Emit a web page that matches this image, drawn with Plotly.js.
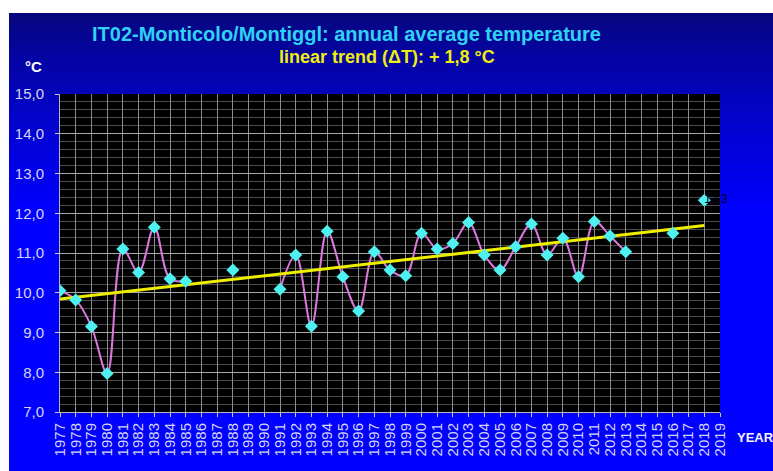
<!DOCTYPE html>
<html>
<head>
<meta charset="utf-8">
<script src="https://cdn.plot.ly/plotly-3.0.1.min.js"></script>
<style>html,body{margin:0;padding:0;background:#fff;}#chart{width:773px;height:471px;}</style>
</head>
<body>
<div id="chart"></div>
<script>
// ---- data ----
const years = [1977,1978,1979,1980,1981,1982,1983,1984,1985,1986,1987,1988,1989,1990,
  1991,1992,1993,1994,1995,1996,1997,1998,1999,2000,2001,2002,2003,2004,2005,2006,
  2007,2008,2009,2010,2011,2012,2013,2014,2015,2016,2017,2018];
const temps = [10.05,9.82,9.15,7.97,11.10,10.51,11.65,10.35,10.29,null,null,10.57,null,null,
  10.09,10.95,9.16,11.55,10.40,9.54,11.03,10.57,10.43,11.50,11.10,11.24,11.77,10.95,10.57,11.16,
  11.73,10.95,11.37,10.40,11.79,11.43,11.03,null,null,11.50,null,12.33];
const trendYears = [1977, 2018];
const trendValues = [9.84, 11.69];
const labelYears = [2018];
const labelValues = [12.33];
const labelTexts = ["12,3"];
const titleText = "IT02-Monticolo/Montiggl: annual average temperature";
const subtitleText = "linear trend (\u0394T): + 1,8 \u00b0C";

// ---- background gradient bands (styling) ----
const W = 773, H = 471, L = 60, R = 720, T = 94, B = 412;
const px2x = p => (p - L) / (R - L);
const py2y = p => (B - p) / (B - T);
const shapes = [];
const bgTop = 13, bgBottom = 471, nBands = 46;
for (let i = 0; i < nBands; i++) {
  const y0 = bgTop + (bgBottom - bgTop) * i / nBands;
  const y1 = Math.min(bgBottom, bgTop + (bgBottom - bgTop) * (i + 1) / nBands + 2);
  const mid = bgTop + (bgBottom - bgTop) * (i + 0.5) / nBands;
  const t = Math.min(1, Math.max(0, (mid - bgTop) / 200));
  const b = Math.round(118 + 137 * Math.pow(t, 0.75));
  const rg = Math.round(6 * (1 - t));
  shapes.push({type:'rect', xref:'paper', yref:'paper', layer:'below',
    x0: px2x(9), x1: px2x(W + 2), y0: py2y(y1), y1: py2y(y0),
    fillcolor:`rgb(${rg},${rg},${b})`, line:{width:0}});
}
shapes.push({type:'rect', xref:'paper', yref:'paper', layer:'below',
  x0:0, x1:1, y0:0, y1:1, fillcolor:'#000000', line:{width:0}});

const traces = [
  {x: years, y: temps, type:'scatter', mode:'lines', connectgaps:false,
   line:{shape:'spline', smoothing:1, color:'#dc78dc', width:2}, hoverinfo:'skip'},
  {x: trendYears, y: trendValues, type:'scatter', mode:'lines',
   line:{color:'#eeee00', width:3}, hoverinfo:'skip'},
  {x: years, y: temps, type:'scatter', mode:'markers',
   marker:{symbol:'diamond', size:10, color:'#4ff0f0', line:{width:0}}, hoverinfo:'skip'},
  {x: labelYears, y: labelValues, type:'scatter', mode:'text', text: labelTexts,
   textposition:'middle right', textfont:{family:'Liberation Sans, Arial', size:12, color:'#000028'},
   cliponaxis:false, hoverinfo:'skip'}
];

const layout = {
  width: W, height: H,
  margin:{l:L, r:W-R, t:T, b:H-B, pad:0},
  paper_bgcolor:'#ffffff', plot_bgcolor:'#000000',
  separators: ',.',
  showlegend:false,
  shapes: shapes,
  xaxis:{range:[1977, 2019], tickmode:'linear', tick0:1977, dtick:1, tickangle:-90,
    showgrid:true, gridcolor:'#8c8c8c', gridwidth:1, zeroline:false,
    showline:true, linecolor:'#b8b8b8', ticks:'outside', ticklen:4, tickcolor:'#c8c8c8',
    tickfont:{family:'Liberation Sans, Arial', size:15, color:'#d4d4f4'}, fixedrange:true},
  yaxis:{range:[7, 15], tickmode:'linear', tick0:7, dtick:1, tickformat:'.1f',
    showgrid:true, gridcolor:'#a8a8a8', gridwidth:1, zeroline:false,
    showline:true, linecolor:'#b8b8b8', ticks:'outside', ticklen:4, tickcolor:'#c8c8c8',
    ticklabelstandoff: 8,
    tickfont:{family:'Liberation Sans, Arial', size:15, color:'#d4d4f4'},
    minor:{dtick:0.2, showgrid:true, gridcolor:'#4c4c4c', gridwidth:1},
    fixedrange:true},
  annotations:[
    {text: titleText, xref:'paper', yref:'paper', x: px2x(346), y: py2y(34),
     xanchor:'center', yanchor:'middle', showarrow:false,
     font:{family:'Liberation Sans, Arial', size:20, color:'#2fd2f5', weight:'bold'}},
    {text: subtitleText, xref:'paper', yref:'paper', x: px2x(387), y: py2y(57),
     xanchor:'center', yanchor:'middle', showarrow:false,
     font:{family:'Liberation Sans, Arial', size:18, color:'#eeee10', weight:'bold'}},
    {text: '\u00b0C', xref:'paper', yref:'paper', x: px2x(33), y: py2y(67),
     xanchor:'center', yanchor:'middle', showarrow:false,
     font:{family:'Liberation Sans, Arial', size:15, color:'#ffffff', weight:'bold'}},
    {text: 'YEAR', xref:'paper', yref:'paper', x: px2x(735), y: py2y(437),
     xanchor:'left', yanchor:'middle', showarrow:false,
     font:{family:'Liberation Sans, Arial', size:13, color:'#f4f4ff', weight:'bold'}}
  ]
};
Plotly.newPlot('chart', traces, layout, {staticPlot:true, displayModeBar:false});
</script>
</body>
</html>
